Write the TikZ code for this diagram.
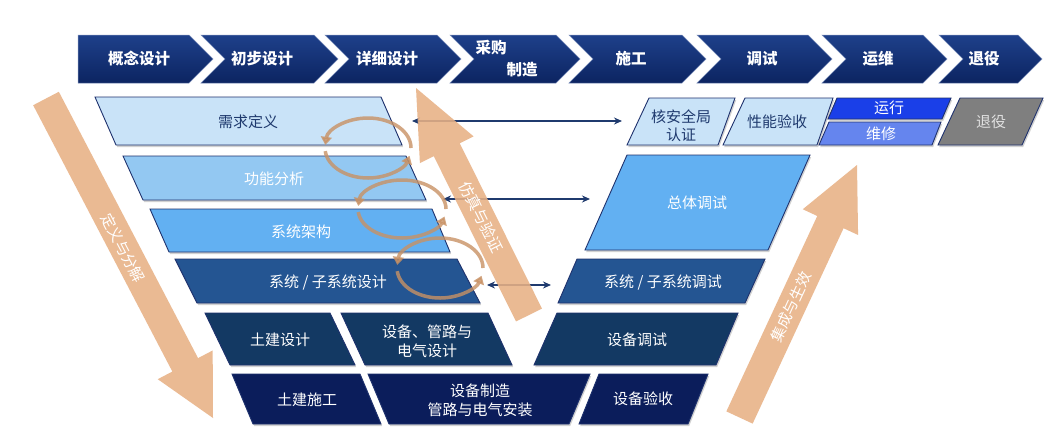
\documentclass[tikz,border=0pt]{standalone}
\usepackage{fontspec}
\setmainfont{Noto Sans CJK SC}
\usetikzlibrary{arrows.meta,calc}
\definecolor{navyA}{RGB}{30,64,138}
\definecolor{navyB}{RGB}{12,36,97}
\definecolor{bord}{RGB}{31,50,110}
\definecolor{cA}{RGB}{201,227,248}
\definecolor{cB}{RGB}{147,200,242}
\definecolor{cC}{RGB}{98,176,242}
\definecolor{cD}{RGB}{36,85,146}
\definecolor{cE}{RGB}{19,57,99}
\definecolor{cF}{RGB}{11,29,91}
\definecolor{runc}{RGB}{26,63,232}
\definecolor{repc}{RGB}{101,133,238}
\definecolor{grayc}{RGB}{127,127,127}
\definecolor{darktext}{RGB}{31,58,110}
\definecolor{orng}{RGB}{232,177,133}
\definecolor{cyc}{RGB}{200,145,100}
\definecolor{lnc}{RGB}{31,58,110}
\tikzset{
  chev/.style={top color=navyA, bottom color=navyB, draw=navyA!60!white, line width=0.5pt},
  chevtext/.style={text=white, font=\fontsize{15.5}{18}\selectfont\bfseries, inner sep=0pt},
  bx/.style={draw=bord, line width=0.9pt,
    preaction={fill=black!18, transform canvas={shift={(1.2pt,-2pt)}}}},
  lbl/.style={font=\fontsize{15}{19}\selectfont, align=center, inner sep=0pt},
  wlbl/.style={lbl, text=white},
  dlbl/.style={lbl, text=darktext},
  blk/.style={fill=orng, fill opacity=0.88},
  atext/.style={text=white, font=\fontsize{15}{18}\selectfont, inner sep=0pt},
  cycst/.style={draw=cyc, line width=3.5pt, opacity=0.8, -{Triangle[length=8pt,width=11pt]}},
  dbl/.style={draw=lnc, line width=1.6pt, {Stealth[length=8pt,width=7pt]}-{Stealth[length=8pt,width=7pt]}},
}
\newcommand\blockarrow[5]{%
  \path[blk] ($(#1)!#3!90:(#2)$)
    -- ($($(#2)!#4!(#1)$)!#3!-90:(#1)$)
    -- ($($(#2)!#4!(#1)$)!#5!-90:(#1)$)
    -- (#2)
    -- ($($(#2)!#4!(#1)$)!#5!90:(#1)$)
    -- ($($(#2)!#4!(#1)$)!#3!90:(#1)$)
    -- ($(#1)!#3!-90:(#2)$) -- cycle;}
\newcommand\cycpair[3]{%
  \draw[cycst] ([shift={(0:#2 and #3)}]#1) arc[start angle=0,end angle=174,x radius=#2,y radius=#3];
  \draw[cycst] ([shift={(186:#2 and #3)}]#1) arc[start angle=186,end angle=345,x radius=#2,y radius=#3];}
\begin{document}
\begin{tikzpicture}[x=1pt,y=-1pt]
\path[use as bounding box, fill=white] (0,0) rectangle (1056,434);

% phase chevrons
\path[chev] (78,35) -- (189,35) -- (213,59) -- (189,83) -- (78,83) -- cycle;
\foreach \L/\P in {201/338,325/461,450/580,569/706,697/832,822/947,939/1042}{
  \path[chev] (\L,35) -- ({\P-24},35) -- (\P,59) -- ({\P-24},83) -- (\L,83) -- ({\L+24},59) -- cycle;
}
\node[chevtext] (p1) at (139,59) {概念设计};
\node[chevtext] (p2) at (262,59) {初步设计};
\node[chevtext] (p3) at (387,59) {详细设计};
\node[chevtext] (p4a) at (491,48) {采购};
\node[chevtext] (p4b) at (522,70) {制造};
\node[chevtext] (p5) at (631,59) {施工};
\node[chevtext] (p6) at (762,59) {调试};
\node[chevtext] (p7) at (878,59) {运维};
\node[chevtext] (p8) at (984,59) {退役};

% left side boxes
\path[bx, fill=cA] (95,97) -- (381,97) -- (402,145) -- (116,145) -- cycle;
\path[bx, fill=cB] (123,156) -- (406,156) -- (426,200) -- (143,200) -- cycle;
\path[bx, fill=cC] (150,209) -- (432,209) -- (450,252) -- (169,252) -- cycle;
\path[bx, fill=cD] (175,259) -- (457,259) -- (480,303) -- (197,303) -- cycle;
\path[bx, fill=cE] (205,313) -- (330,313) -- (355,365) -- (230,365) -- cycle;
\path[bx, fill=cE] (341,313) -- (488,313) -- (512,365) -- (365,365) -- cycle;
\path[bx, fill=cF] (232,374) -- (360,374) -- (381,424) -- (253,424) -- cycle;
\path[bx, fill=cF] (368,374) -- (590,374) -- (569,424) -- (389,424) -- cycle;
% right side boxes
\path[bx, fill=cF] (599,374) -- (708,374) -- (688,424) -- (579,424) -- cycle;
\path[bx, fill=cE] (557,313) -- (738,313) -- (716,365) -- (534,365) -- cycle;
\path[bx, fill=cD] (577,259) -- (765,259) -- (745,303) -- (558,303) -- cycle;
\path[bx, fill=cC] (627,155) -- (810,155) -- (768,250) -- (585,250) -- cycle;
\path[bx, fill=cA] (649,98) -- (735,98) -- (718,145) -- (627,145) -- cycle;
\path[bx, fill=cA] (745,98) -- (833,98) -- (817,145) -- (723,145) -- cycle;
\path[bx, fill=runc] (837,98) -- (951,98) -- (942,119) -- (828,119) -- cycle;
\path[bx, fill=repc] (829,122) -- (941,122) -- (932,145) -- (819,145) -- cycle;
\path[bx, fill=grayc] (960,98) -- (1043,98) -- (1022,145) -- (938,145) -- cycle;

% box labels
\node[dlbl] (req) at (248,122) {需求定义};
\node[wlbl] (fun) at (274,179) {功能分析};
\node[wlbl] (arch) at (301,232) {系统架构};
\node[wlbl] (sub) at (328,283) {系统 / 子系统设计};
\node[wlbl] (civd) at (280,340) {土建设计};
\node[wlbl] (eqd) at (427,341) {设备、管路与\\电气设计};
\node[wlbl] (civc) at (307,400) {土建施工};
\node[wlbl] (eqm) at (480,400) {设备制造\\管路与电气安装};
\node[wlbl] (eqa) at (643,399) {设备验收};
\node[wlbl] (eqt) at (637,340) {设备调试};
\node[wlbl] (subt) at (663,283) {系统 / 子系统调试};
\node[wlbl] (tot) at (697,203) {总体调试};
\node[dlbl, font=\fontsize{15}{18}\selectfont] (nsa) at (681,126) {核安全局\\认证};
\node[dlbl] (perf) at (777,122) {性能验收};
\node[wlbl] (run) at (889,108) {运行};
\node[wlbl] (rep) at (881,134) {维修};
\node[lbl, text=black!12] (dec) at (991,122) {退役};

% double arrows
\coordinate (d1a) at (412,121); \coordinate (d1b) at (622,121);
\coordinate (d2a) at (443,199); \coordinate (d2b) at (590,199);
\coordinate (d3a) at (487,285); \coordinate (d3b) at (551,285);
\draw[dbl] (d1a) -- (d1b);
\draw[dbl] (d2a) -- (d2b);
\draw[dbl] (d3a) -- (d3b);

% big block arrows
\coordinate (dS) at (46,98.5);  \coordinate (dT) at (213,418);
\coordinate (vS) at (529,315);  \coordinate (vT) at (416,88);
\coordinate (iS) at (739.5,417.5); \coordinate (iT) at (857,165);
\blockarrow{dS}{dT}{14.5pt}{60pt}{31pt}
\blockarrow{vS}{vT}{14.5pt}{69pt}{30pt}
\blockarrow{iS}{iT}{14.5pt}{63pt}{30.5pt}
\node[atext, rotate=-62.4] (dtxt) at (123,248) {定义与分解};
\node[atext, rotate=-63.4, font=\fontsize{15.5}{18}\selectfont] (vtxt) at (481,217) {仿真与验证};
\node[atext, rotate=65.1] (itxt) at (791,307) {集成与生效};

% iteration cycles
\coordinate (e1) at (368,148);
\coordinate (e2) at (402,209);
\coordinate (e3) at (440,268);
\cycpair{e1}{43pt}{30pt}
\cycpair{e2}{44pt}{29pt}
\cycpair{e3}{43pt}{30pt}
\end{tikzpicture}
\end{document}
